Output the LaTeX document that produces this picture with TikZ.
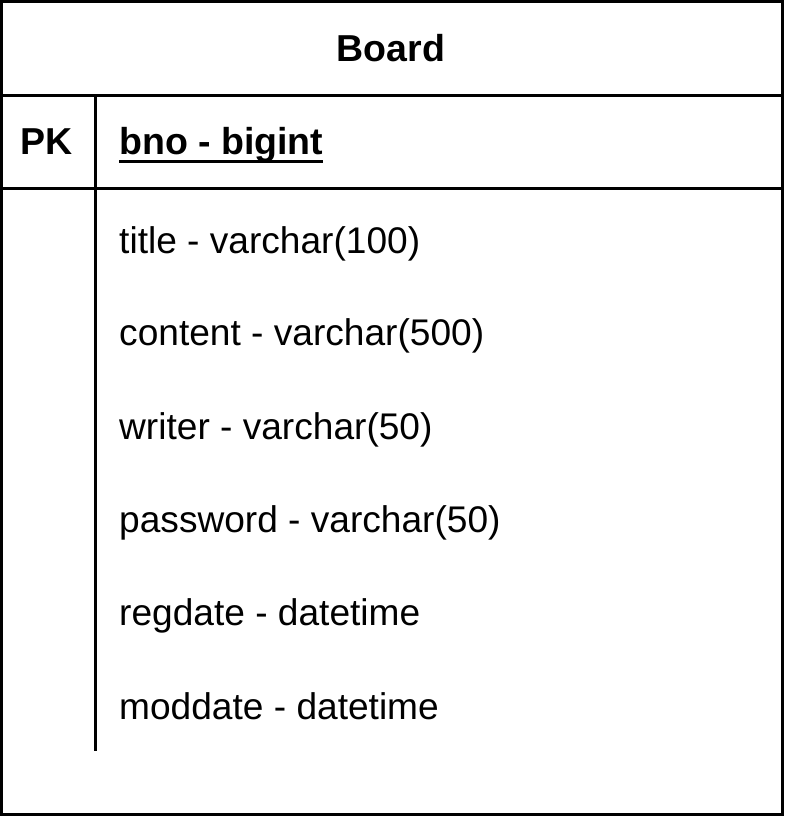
\documentclass[tikz,border=0pt]{standalone}
\usepackage{fontspec}
\setmainfont{Liberation Sans}
\usetikzlibrary{positioning}

\tikzset{
  tbl/.style={line width=3pt},
  field/.style={anchor=west, inner sep=0pt, text height=27pt, text depth=0pt,
    font=\fontsize{37.1}{45}\selectfont},
  keyfield/.style={field, font=\fontsize{37.5}{45}\selectfont\bfseries},
}

\begin{document}
\begin{tikzpicture}[x=1pt,y=-1pt]
\useasboundingbox (0,0) rectangle (784,816);
\draw[tbl] (1.5,1.5) rectangle (782.5,814.5);
\draw[tbl] (0,95) -- (784,95);
\draw[tbl] (0,188) -- (784,188);
\coordinate (colTop) at (95,95);
\coordinate (colEnd) at (95,751);
\draw[tbl] (colTop) -- (colEnd);
%
\node[keyfield, anchor=center] (Board) at (391,48) {Board};
\node[keyfield, anchor=center] (PK) at (47,141) {PK};
\node[keyfield] (bno) at (119,141) {bno - bigint};
\draw[line width=2.5pt] ([yshift=-7pt]bno.base west) -- ([yshift=-7pt]bno.base east);
%
\node[field] (title) at (119,240) {title - varchar(100)};
\node[field] (content) at (119,332) {content - varchar(500)};
\node[field] (writer) at (119,426) {writer - varchar(50)};
\node[field] (password) at (119,519) {password - varchar(50)};
\node[field] (regdate) at (119,612) {regdate - datetime};
\node[field] (moddate) at (119,706) {moddate - datetime};
\end{tikzpicture}
\end{document}
